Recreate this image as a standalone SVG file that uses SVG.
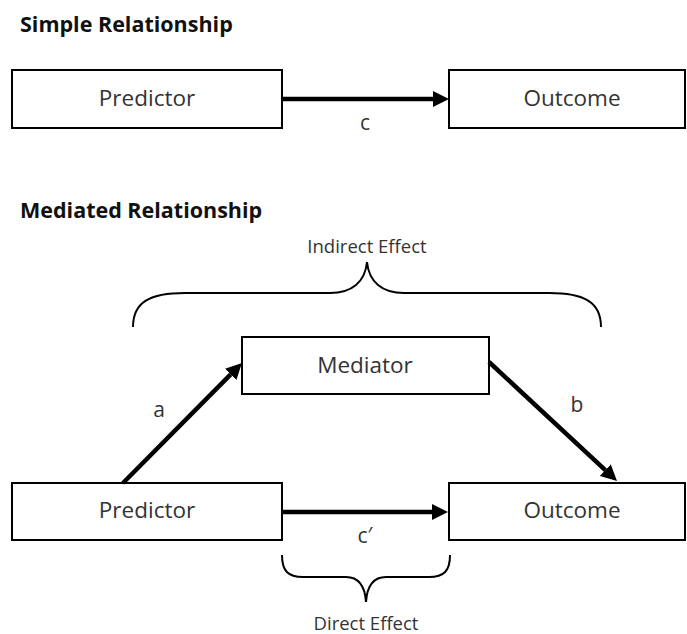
<svg xmlns="http://www.w3.org/2000/svg" width="687" height="634" viewBox="0 0 687 634">
  <style>
    .title { font-family: "Open Sans", "Liberation Sans", sans-serif; font-weight: bold; font-size: 21.5px; fill: #111; }
    .node rect { fill: #fff; stroke: #000; stroke-width: 2; }
    .node text { font-family: "Open Sans", "Liberation Sans", sans-serif; font-size: 22.5px; fill: #333; text-anchor: middle; }
    .lbl { font-family: "Open Sans", "Liberation Sans", sans-serif; font-size: 21px; fill: #333; text-anchor: middle; }
    .note { font-family: "Open Sans", "Liberation Sans", sans-serif; font-size: 18.5px; fill: #333; text-anchor: middle; }
    .arrow { stroke: #000; stroke-width: 4.5; fill: none; marker-end: url(#head); }
    .brace { stroke: #000; stroke-width: 2; fill: none; }
  </style>
  <defs>
    <marker id="head" markerUnits="userSpaceOnUse" viewBox="0 -8 16 16" refX="0" refY="0" markerWidth="16" markerHeight="16" orient="auto">
      <path d="M0,-8 L16,0 L0,8 z" fill="#000"/>
    </marker>
  </defs>

  <rect width="687" height="634" fill="#fff"/>

  <!-- section titles -->
  <text class="title" x="20" y="32">Simple Relationship</text>
  <text class="title" x="20" y="218">Mediated Relationship</text>

  <!-- simple model -->
  <g id="simple-predictor" class="node">
    <rect x="12" y="70" width="270" height="58"/>
    <text x="147" y="106">Predictor</text>
  </g>
  <g id="simple-outcome" class="node">
    <rect x="449" y="70" width="236" height="58"/>
    <text x="572" y="106">Outcome</text>
  </g>

  <!-- mediated model -->
  <g id="mediator" class="node">
    <rect x="242" y="337" width="247" height="57"/>
    <text x="365" y="373">Mediator</text>
  </g>
  <g id="mediated-predictor" class="node">
    <rect x="12" y="483" width="270" height="57"/>
    <text x="147" y="518">Predictor</text>
  </g>
  <g id="mediated-outcome" class="node">
    <rect x="449" y="483" width="236" height="57"/>
    <text x="572" y="518">Outcome</text>
  </g>

  <g id="connectors">
    <line class="arrow" x1="282" y1="99" x2="433" y2="99"/>
    <line class="arrow" x1="123" y1="483" x2="230.7" y2="374.4"/>
    <line class="arrow" x1="489" y1="362" x2="605.3" y2="470.1"/>
    <line class="arrow" x1="282" y1="512" x2="432" y2="512"/>
  </g>

  <!-- path labels -->
  <text class="lbl" x="365" y="130">c</text>
  <text class="lbl" x="159" y="417">a</text>
  <text class="lbl" x="577" y="412">b</text>
  <text class="lbl" x="365" y="543">c′</text>

  <!-- effect braces -->
  <g id="indirect-effect">
    <path class="brace" d="M133,327 C133,302 150,293 185,293 L330,293 C352,293 365,282 367,262 C369,282 382,293 404,293 L549,293 C584,293 601,302 601,327"/>
    <text class="note" x="367" y="253">Indirect Effect</text>
  </g>
  <g id="direct-effect">
    <path class="brace" d="M282,555 C282,571 288,577 303,577 L346,577 C359,577 365,587 366,602 C367,587 373,577 386,577 L429,577 C444,577 450,571 450,555"/>
    <text class="note" x="366" y="630">Direct Effect</text>
  </g>
</svg>
